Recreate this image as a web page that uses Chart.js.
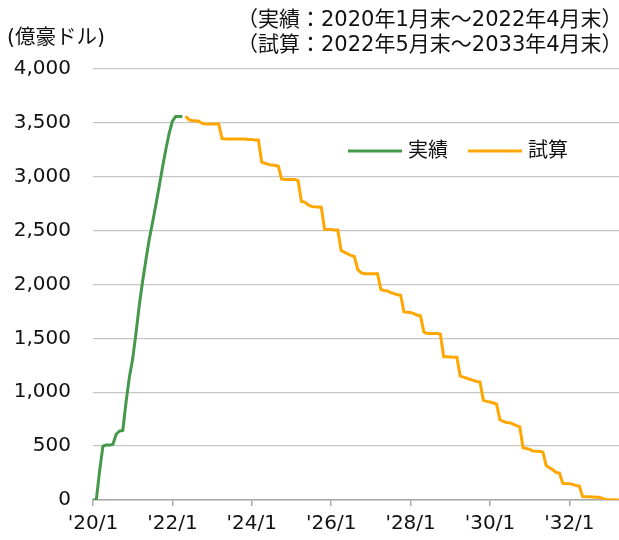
<!DOCTYPE html>
<html>
<head>
<meta charset="utf-8">
<script src="https://cdn.jsdelivr.net/npm/chart.js@4.4.1/dist/chart.umd.min.js"></script>
<style>
  html, body { margin: 0; padding: 0; background: #fff; }
</style>
</head>
<body>
<canvas id="chart" width="619" height="540"></canvas>
<script>
// month categories 2020/1 .. 2033/4
const monthLabels = [];
for (let y = 2020; y <= 2033; y++) {
  for (let m = 1; m <= 12; m++) {
    if (y === 2033 && m > 4) break;
    monthLabels.push("'" + String(y).slice(2) + "/" + m);
  }
}

// 実績 2020/1 - 2022/4
const actual = [
  0, 0, 270, 500, 510, 510, 515, 610, 640, 645,
  910, 1140, 1310, 1550, 1810, 2030, 2230, 2420, 2575, 2740,
  2910, 3085, 3250, 3400, 3515, 3560, 3560, 3560
];

// 試算 2022/5 - 2033/4
const estimate = [
  3560, 3530, 3520, 3520, 3515, 3495, 3490, 3490, 3490, 3490, 3490,
  3355, 3350, 3350, 3350, 3350, 3350, 3350, 3350, 3345, 3345, 3340, 3340,
  3135, 3125, 3115, 3110, 3105, 3100, 2980,
  2975, 2975, 2975, 2975, 2965,
  2770, 2765, 2740, 2725, 2722, 2720, 2718,
  2510, 2510, 2510, 2505, 2505,
  2315, 2300, 2285, 2270, 2260,
  2140, 2110, 2100, 2100, 2100, 2100, 2100,
  1955, 1945, 1940, 1925, 1915, 1905, 1900,
  1745, 1742, 1740, 1730, 1715, 1710,
  1560, 1545, 1545, 1545, 1545, 1540,
  1330, 1330, 1328, 1325, 1325,
  1150, 1140, 1130, 1120, 1110, 1100, 1095,
  925, 915, 910, 900, 890,
  745, 730, 720, 718, 705, 690, 680,
  485, 478, 470, 455, 452, 450, 445,
  320, 300, 280, 255, 250,
  155, 152, 150, 145, 135, 130,
  31, 30, 30, 28, 26, 25, 15, 5, 3, 2, 0, 0
];

const seriesNames = ["実績", "試算"];
const seriesColors = ["#45994a", "#ffa700"];
const headerLines = ["（実績：2020年1月末～2022年4月末）", "（試算：2022年5月末～2033年4月末）"];
const unitLabel = "(億豪ドル)";

const offset = actual.length;
const actualData = monthLabels.map((_, i) => (i < offset ? actual[i] : null));
const estimateData = monthLabels.map((_, i) => (i >= offset ? estimate[i - offset] : null));

const latin = "'DejaVu Sans', 'Noto Sans CJK JP', sans-serif";

const textPlugin = {
  id: "texts",
  afterDraw(chart) {
    const ctx = chart.ctx;
    ctx.save();
    ctx.fillStyle = "#111";
    ctx.textBaseline = "middle";
    ctx.textAlign = "left";

    ctx.font = "21px " + latin;
    ctx.fillText(headerLines[0], 237, 21);
    ctx.fillText(headerLines[1], 237, 46);

    ctx.font = "20.5px " + latin;
    ctx.fillText(unitLabel, 7, 39);

    // legend
    const legendPos = [348, 468];
    ctx.font = "20px " + latin;
    chart.data.datasets.forEach((ds, i) => {
      const x = legendPos[i];
      ctx.strokeStyle = ds.borderColor;
      ctx.lineWidth = 3;
      ctx.beginPath();
      ctx.moveTo(x, 151);
      ctx.lineTo(x + 54, 151);
      ctx.stroke();
      ctx.fillText(ds.label, x + 60, 152);
    });
    ctx.restore();
  }
};

new Chart(document.getElementById("chart"), {
  type: "line",
  data: {
    labels: monthLabels,
    datasets: [
      {
        label: seriesNames[0],
        data: actualData,
        borderColor: seriesColors[0],
        borderWidth: 3,
        pointRadius: 0,
        tension: 0,
        spanGaps: false
      },
      {
        label: seriesNames[1],
        data: estimateData,
        borderColor: seriesColors[1],
        borderWidth: 3,
        pointRadius: 0,
        tension: 0,
        spanGaps: false
      }
    ]
  },
  options: {
    responsive: false,
    animation: false,
    layout: { padding: { top: 69, right: 0, bottom: 0, left: 0 } },
    plugins: {
      legend: { display: false },
      tooltip: { enabled: false }
    },
    scales: {
      x: {
        type: "category",
        afterFit: (scale) => { scale.height = 40; },
        grid: {
          drawOnChartArea: false,
          tickLength: 6,
          color: "#a8a8a8",
          lineWidth: 1.5
        },
        border: { color: "#a8a8a8", width: 1.5 },
        ticks: {
          autoSkip: false,
          maxRotation: 0,
          padding: 6,
          color: "#111",
          font: { family: latin, size: 20 },
          callback: (val, idx) => (idx % 24 === 0 ? monthLabels[idx] : null)
        }
      },
      y: {
        min: 0,
        max: 4000,
        afterFit: (scale) => { scale.width = 93; },
        grid: {
          drawTicks: false,
          color: "#c6c6c6",
          lineWidth: 1.3
        },
        border: { display: false },
        ticks: {
          stepSize: 500,
          padding: 22,
          color: "#111",
          font: { family: latin, size: 20 },
          callback: (v) => v.toLocaleString("en-US")
        }
      }
    }
  },
  plugins: [textPlugin]
});
</script>
</body>
</html>
